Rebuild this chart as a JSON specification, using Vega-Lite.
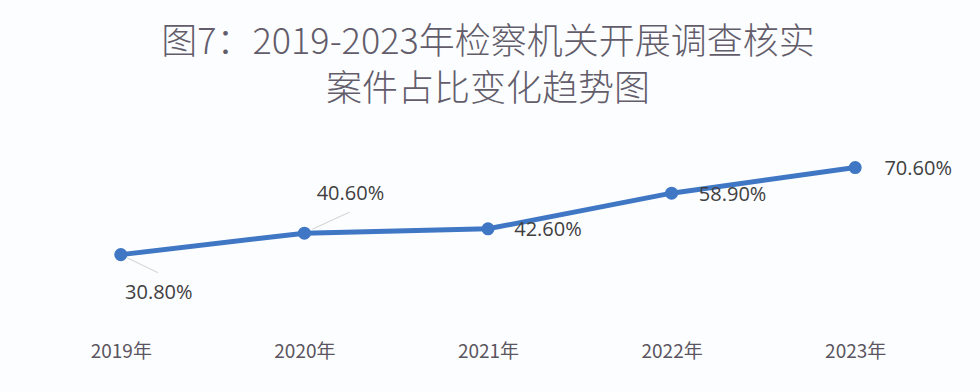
{
  "$schema": "https://vega.github.io/schema/vega-lite/v6.json",
  "autosize": "none",
  "width": 918,
  "height": 175,
  "padding": {"left": 29, "top": 147, "right": 33, "bottom": 70},
  "background": "#fcfdff",
  "title": {
    "text": ["图7：2019-2023年检察机关开展调查核实", "案件占比变化趋势图"],
    "anchor": "middle",
    "font": "Noto Sans CJK SC",
    "fontSize": 36,
    "fontWeight": 300,
    "color": "#635d6b",
    "lineHeight": 47,
    "offset": 38
  },
  "config": {
    "view": {"stroke": null},
    "font": "Noto Sans CJK SC"
  },
  "data": {
    "values": [
      {"year": "2019年", "value": 0.308},
      {"year": "2020年", "value": 0.406},
      {"year": "2021年", "value": 0.426},
      {"year": "2022年", "value": 0.589},
      {"year": "2023年", "value": 0.706}
    ]
  },
  "encoding": {
    "x": {
      "field": "year",
      "type": "ordinal",
      "scale": {"type": "point", "padding": 0.5},
      "axis": {
        "title": null,
        "labelAngle": 0,
        "domain": false,
        "ticks": false,
        "labelPadding": 20,
        "labelFontSize": 19,
        "labelColor": "#5a5560",
        "labelFont": "Noto Sans CJK SC"
      }
    },
    "y": {
      "field": "value",
      "type": "quantitative",
      "scale": {"domain": [0, 0.8]},
      "axis": null
    }
  },
  "layer": [
    {
      "transform": [{"filter": "datum.year == '2019年'"}],
      "mark": {"type": "rule", "color": "#d0d0d0", "strokeWidth": 1, "xOffset": 6, "yOffset": 3, "x2Offset": 37, "y2Offset": 18},
      "encoding": {"x2": {"field": "year"}, "y2": {"field": "value"}}
    },
    {
      "transform": [{"filter": "datum.year == '2020年'"}],
      "mark": {"type": "rule", "color": "#d0d0d0", "strokeWidth": 1, "xOffset": 8, "yOffset": -4, "x2Offset": 45, "y2Offset": -21},
      "encoding": {"x2": {"field": "year"}, "y2": {"field": "value"}}
    },
    {
      "mark": {"type": "line", "color": "#3f77c4", "strokeWidth": 5}
    },
    {
      "mark": {"type": "circle", "color": "#3f77c4", "size": 170, "opacity": 1}
    },
    {
      "transform": [{"filter": "datum.year == '2019年'"}],
      "mark": {"type": "text", "fontSize": 20, "color": "#404040", "dx": 38, "dy": 38, "font": "Open Sans"},
      "encoding": {"text": {"field": "value", "type": "quantitative", "format": ".2%"}}
    },
    {
      "transform": [{"filter": "datum.year == '2020年'"}],
      "mark": {"type": "text", "fontSize": 20, "color": "#404040", "dx": 46, "dy": -39, "font": "Open Sans"},
      "encoding": {"text": {"field": "value", "type": "quantitative", "format": ".2%"}}
    },
    {
      "transform": [{"filter": "datum.year == '2021年'"}],
      "mark": {"type": "text", "fontSize": 20, "color": "#404040", "dx": 60, "dy": 1, "font": "Open Sans"},
      "encoding": {"text": {"field": "value", "type": "quantitative", "format": ".2%"}}
    },
    {
      "transform": [{"filter": "datum.year == '2022年'"}],
      "mark": {"type": "text", "fontSize": 20, "color": "#404040", "dx": 61, "dy": 2, "font": "Open Sans"},
      "encoding": {"text": {"field": "value", "type": "quantitative", "format": ".2%"}}
    },
    {
      "transform": [{"filter": "datum.year == '2023年'"}],
      "mark": {"type": "text", "fontSize": 20, "color": "#404040", "dx": 63, "dy": 1, "font": "Open Sans"},
      "encoding": {"text": {"field": "value", "type": "quantitative", "format": ".2%"}}
    }
  ]
}
